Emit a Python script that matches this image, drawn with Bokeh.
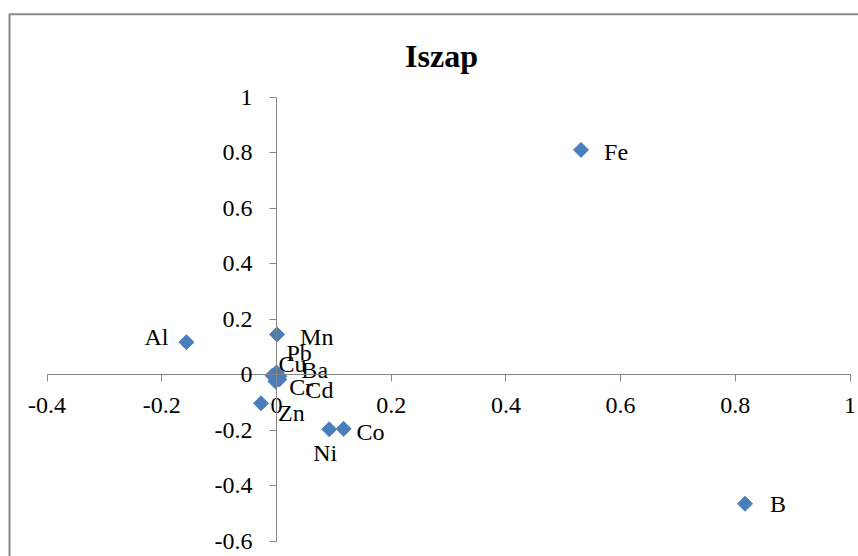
from bokeh.plotting import figure
from bokeh.models import Range1d, LinearAxis, FixedTicker, ColumnDataSource, Label, BoxAnnotation
from bokeh.embed import file_html
from bokeh.resources import INLINE
from bokeh.core.properties import value
from math import pi

# ---- data ----
elements = ["Fe", "B", "Al", "Mn", "Pb", "Cu", "Ba", "Cr", "Cd", "Zn", "Ni", "Co"]
x_vals = [0.531, 0.817, -0.157, 0.001, 0.000, -0.007, 0.005, -0.002, 0.005, -0.027, 0.092, 0.117]
y_vals = [0.810, -0.465, 0.117, 0.145, 0.008, -0.003, -0.006, -0.024, -0.017, -0.103, -0.197, -0.195]
x_ticks = [-0.4, -0.2, 0, 0.2, 0.4, 0.6, 0.8, 1.0]
y_ticks = [-0.6, -0.4, -0.2, 0, 0.2, 0.4, 0.6, 0.8, 1.0]
title_text = "Iszap"

# label placement (screen pixels, relative to marker; positive dy = down)
label_dx = [23, 25, -42, 23, 10, 6, 22, 14, 26, 17, -16, 13]
label_dy = [2, 0, -5, 3, -19, -12, -6, 6, 11, 10, 24, 3]

# ---- layout ----
W, H = 858, 556
# pixel mapping: x value 0 at px 276, 573.5 px per unit; y value 0 at py 374.2, 277.5 px per unit
X0, X1 = (0 - 276) / 573.5, (W - 276) / 573.5
Y0, Y1 = (374.2 - H) / 277.5, 374.2 / 277.5


def sx_to_x(px):
    return X0 + px / W * (X1 - X0)


def sy_to_y(py):
    return Y1 - py / H * (Y1 - Y0)


p = figure(width=W, height=H, x_range=Range1d(X0, X1), y_range=Range1d(Y0, Y1),
           output_backend="svg", toolbar_location=None,
           x_axis_location=None, y_axis_location=None, min_border=0)
p.outline_line_color = None
p.background_fill_color = "white"
p.border_fill_color = "white"
for g in p.grid:
    g.visible = False

axis_color = "#868686"
font = "Liberation Serif"

xa = LinearAxis(fixed_location=0, bounds=(-0.4, 1.0), ticker=FixedTicker(ticks=x_ticks),
                major_label_overrides={t: f"{t:g}" for t in x_ticks})
ya = LinearAxis(fixed_location=0, bounds=(-0.6, 1.0), ticker=FixedTicker(ticks=y_ticks),
                major_label_overrides={t: f"{t:g}" for t in y_ticks})
for ax in (xa, ya):
    ax.axis_line_color = axis_color
    ax.axis_line_width = 1
    ax.major_tick_line_color = axis_color
    ax.major_tick_in = 0
    ax.major_tick_out = 7
    ax.minor_tick_line_color = None
    ax.major_label_text_font = font
    ax.major_label_text_font_size = "24px"
    ax.major_label_text_color = "black"
xa.major_label_standoff = 16
ya.major_label_standoff = 17
p.add_layout(xa, "below")
p.add_layout(ya, "left")

src = ColumnDataSource(dict(x=x_vals, y=y_vals, name=elements, dx=label_dx, dy=label_dy))
p.scatter(x="x", y="y", source=src, marker="square", angle=pi / 4, size=10.6,
          fill_color="#4A7EBB", line_color="#4A7EBB")
p.text(x="x", y="y", text="name", source=src, x_offset="dx", y_offset="dy",
       text_align="left", text_baseline="middle", text_font=value(font),
       text_font_size="24px", text_color="black")

p.add_layout(Label(x=sx_to_x(441), y=sy_to_y(55), text=title_text, text_font=font,
                   text_font_style="bold", text_font_size="32px", text_align="center",
                   text_baseline="alphabetic", text_color="black"))

p.add_layout(BoxAnnotation(left=sx_to_x(9), top=sy_to_y(13.7), right=X1 + 0.2, bottom=Y0 - 0.2,
                           fill_color=None, fill_alpha=0, line_color="#888888",
                           line_alpha=1.0, line_width=2))

open("out.html", "w").write(file_html(p, INLINE))
